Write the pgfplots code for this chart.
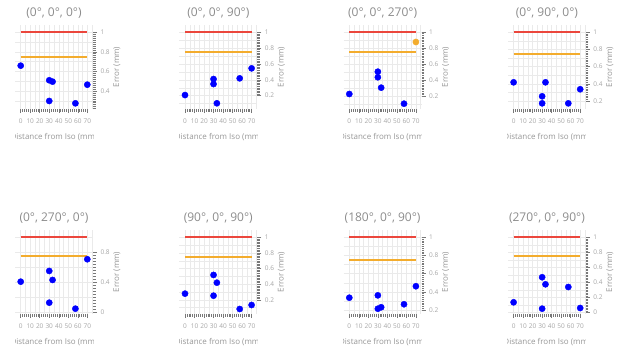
\documentclass[border=0pt]{standalone}
\usepackage{fontspec}
\setmainfont{Open Sans}
\usepackage{pgfplots}
\pgfplotsset{compat=1.18}
\definecolor{titlegray}{RGB}{140,140,140}
\definecolor{tickgray}{RGB}{165,165,165}
\definecolor{labgray}{RGB}{150,150,150}
\definecolor{gridmaj}{RGB}{234,234,234}
\definecolor{tickdark}{RGB}{120,120,120}
\definecolor{linered}{RGB}{235,70,60}
\definecolor{lineorange}{RGB}{243,172,45}
\definecolor{ptblue}{RGB}{0,0,255}
\pgfplotsset{
  panel/.style={
    scale only axis, width=78pt, height=84pt, anchor=south west,
    xmin=-6, xmax=76,
    axis x line*=bottom, axis y line*=right,
    axis line style={draw=none},
    tick align=outside,
    major tick length=4pt, minor tick length=2.5pt,
    every tick/.style={tickdark, line width=0.5pt},
    xtick={0,10,...,70}, minor x tick num=4,
    minor y tick num=9,
    grid=major, major grid style={gridmaj, line width=0.5pt},
    extra x ticks={5,15,...,75}, extra x tick labels={},
    extra x tick style={major tick length=0pt, grid=major},
    extra y tick labels={},
    extra y tick style={major tick length=0pt, grid=major},
    tick label style={font=\fontsize{6.5}{7}\selectfont, text=tickgray},
    xticklabel style={yshift=-2.5pt},
    /pgf/number format/assume math mode=true,
    yticklabel style={/pgf/number format/fixed},
    title style={at={(0.5,1)}, anchor=center, yshift=5.7pt, font=\fontsize{12}{14}\selectfont, text=titlegray},
    ylabel={Error (mm)},
    ylabel style={at={(1,0.5)}, anchor=center, yshift=-24pt, font=\fontsize{8}{9}\selectfont, text=labgray},
    clip=false,
  },
  thr/.style={line width=1.7pt},
  pts/.style={only marks, mark=*, mark size=3.1pt, color=ptblue, mark options={draw=ptblue, fill=ptblue}},
  optsorange/.style={only marks, mark=*, mark size=3.1pt, color=lineorange, mark options={draw=lineorange, fill=lineorange}},
}
\tikzset{xlab/.style={font=\fontsize{8}{9}\selectfont, text=labgray, inner sep=0pt}}
\newcommand{\xlab}[1]{%
  \begin{scope}
  \clip ([yshift=-40pt]#1.south west) rectangle ([yshift=-18pt]#1.south east);
  \node[xlab] at ([yshift=-28.5pt]#1.south) {Distance from Iso (mm)};
  \end{scope}}
\begin{document}
\begin{tikzpicture}
\useasboundingbox (0,0) rectangle (621pt,354pt);
% ---------- row 1 ----------
\begin{axis}[panel, name=a1, at={(15pt,245pt)}, title={(0°, 0°, 0°)},
  ymin=0.216, ymax=1.073, ytick={0.2,0.4,...,1.0}, extra y ticks={0.3,0.5,0.7,0.9}]
\addplot[thr, linered] coordinates {(0,1) (70,1)};
\addplot[thr, lineorange] coordinates {(0,0.75) (70,0.75)};
\addplot[pts] coordinates {(0,0.658) (30,0.509) (33.5,0.495) (70,0.464) (30,0.298) (57.5,0.274)};
\end{axis}
\xlab{a1}
\begin{axis}[panel, name=a2, at={(179.3pt,245pt)}, title={(0°, 0°, 90°)},
  ymin=0.032, ymax=1.092, ytick={0.2,0.4,...,1.0}, extra y ticks={0.1,0.3,0.5,0.7,0.9}]
\addplot[thr, linered] coordinates {(0,1) (70,1)};
\addplot[thr, lineorange] coordinates {(0,0.75) (70,0.75)};
\addplot[pts] coordinates {(0,0.208) (30,0.41) (30,0.347) (33.5,0.104) (57.5,0.419) (70,0.545)};
\end{axis}
\xlab{a2}
\begin{axis}[panel, name=a3, at={(343.6pt,245pt)}, title={(0°, 0°, 270°)},
  ymin=0.0375, ymax=1.0875, ytick={0.2,0.4,...,1.0}, extra y ticks={0.1,0.3,0.5,0.7,0.9}]
\addplot[thr, linered] coordinates {(0,1) (70,1)};
\addplot[thr, lineorange] coordinates {(0,0.75) (70,0.75)};
\addplot[pts] coordinates {(0,0.225) (30,0.504) (30,0.434) (33.5,0.304) (57.5,0.104)};
\addplot[optsorange] coordinates {(70,0.875)};
\end{axis}
\xlab{a3}
\begin{axis}[panel, name=a4, at={(507.9pt,245pt)}, title={(0°, 90°, 0°)},
  ymin=0.106, ymax=1.085, ytick={0.2,0.4,...,1.0}, extra y ticks={0.3,0.5,0.7,0.9}]
\addplot[thr, linered] coordinates {(0,1) (70,1)};
\addplot[thr, lineorange] coordinates {(0,0.75) (70,0.75)};
\addplot[pts] coordinates {(0,0.417) (33.5,0.417) (30,0.254) (30,0.172) (57.5,0.172) (70,0.336)};
\end{axis}
\xlab{a4}
% ---------- row 2 ----------
\begin{axis}[panel, name=b1, at={(15pt,40pt)}, title={(0°, 270°, 0°)},
  ymin=-0.023, ymax=1.097, ytick={0,0.4,0.8}, extra y ticks={0.2,0.6,1.0}]
\addplot[thr, linered] coordinates {(0,1) (70,1)};
\addplot[thr, lineorange] coordinates {(0,0.75) (70,0.75)};
\addplot[pts] coordinates {(0,0.408) (30,0.551) (33.5,0.431) (30,0.128) (57.5,0.048) (70,0.707)};
\end{axis}
\xlab{b1}
\begin{axis}[panel, name=b2, at={(179.3pt,40pt)}, title={(90°, 0°, 90°)},
  ymin=0.02, ymax=1.093, ytick={0.2,0.4,...,1.0}, extra y ticks={0.1,0.3,0.5,0.7,0.9}]
\addplot[thr, linered] coordinates {(0,1) (70,1)};
\addplot[thr, lineorange] coordinates {(0,0.75) (70,0.75)};
\addplot[pts] coordinates {(0,0.28) (30,0.519) (33.5,0.42) (30,0.254) (57.5,0.084) (70,0.135)};
\end{axis}
\xlab{b2}
\begin{axis}[panel, name=b3, at={(343.6pt,40pt)}, title={(180°, 0°, 90°)},
  ymin=0.157, ymax=1.08, ytick={0.2,0.4,...,1.0}, extra y ticks={0.3,0.5,0.7,0.9}]
\addplot[thr, linered] coordinates {(0,1) (70,1)};
\addplot[thr, lineorange] coordinates {(0,0.75) (70,0.75)};
\addplot[pts] coordinates {(0,0.336) (30,0.362) (30,0.215) (33.5,0.231) (57.5,0.264) (70,0.462)};
\end{axis}
\xlab{b3}
\begin{axis}[panel, name=b4, at={(507.9pt,40pt)}, title={(270°, 0°, 90°)},
  ymin=-0.023, ymax=1.097, ytick={0,0.2,...,1.0}, extra y ticks={0.1,0.3,0.5,0.7,0.9}]
\addplot[thr, linered] coordinates {(0,1) (70,1)};
\addplot[thr, lineorange] coordinates {(0,0.75) (70,0.75)};
\addplot[pts] coordinates {(0,0.133) (30,0.467) (33.5,0.373) (30,0.048) (57.5,0.337) (70,0.057)};
\end{axis}
\xlab{b4}
\end{tikzpicture}
\end{document}
